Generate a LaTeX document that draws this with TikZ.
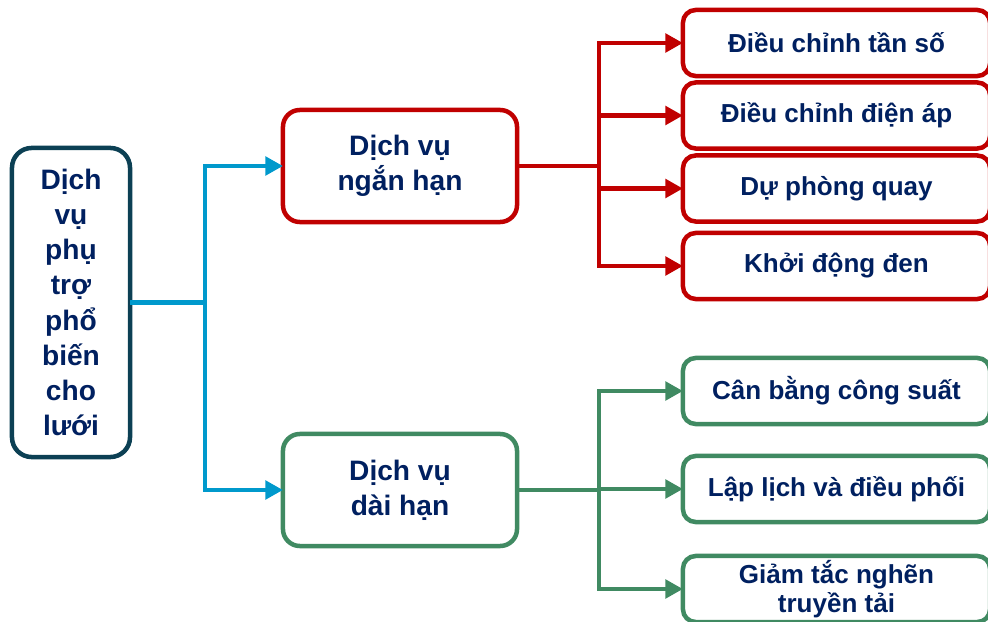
\documentclass[tikz,border=0pt]{standalone}
\usepackage{fontspec}
\setmainfont{Liberation Sans}
\usetikzlibrary{positioning, arrows.meta, shapes, calc}
\definecolor{navytext}{RGB}{0,32,96}
\definecolor{rootborder}{RGB}{12,64,84}
\definecolor{linkblue}{RGB}{0,153,204}
\definecolor{shortred}{RGB}{192,0,0}
\definecolor{longgreen}{RGB}{64,138,98}

\begin{document}
\begin{tikzpicture}[x=0.025cm, y=-0.025cm,
  box/.style={draw, line width=3.2pt, fill=white, text=navytext, align=center,
    font=\bfseries\fontsize{18.5}{24.5}\selectfont, inner sep=2pt, outer sep=0pt},
  rootbox/.style={box, draw=rootborder, rounded corners=14pt, minimum width=2.95cm, minimum height=7.725cm,
    font=\bfseries\fontsize{20}{25}\selectfont},
  midbox/.style={box, rounded corners=12pt, minimum width=5.85cm, minimum height=2.8cm,
    font=\bfseries\fontsize{20}{25}\selectfont},
  leafbox/.style={box, rounded corners=9pt, minimum width=7.675cm, minimum height=1.65cm},
  link/.style={line width=3.4pt, -{Triangle[length=12.5pt, width=13pt]}},
]
\useasboundingbox (0,0) rectangle (988,622);

% main node
\node[rootbox] (root) at (71,302.5) {Dịch\\vụ\\phụ\\trợ\\phổ\\biến\\cho\\lưới};

% two groups
\node[midbox, draw=shortred] (short) at (400,166) {Dịch vụ\\ngắn hạn};
\node[midbox, draw=longgreen] (long) at (400,490) {Dịch vụ\\dài hạn};

% short term services
\node[leafbox, draw=shortred] (freq) at (836.5,43) {Điều chỉnh tần số};
\node[leafbox, draw=shortred] (volt) at (836.5,115.5) {Điều chỉnh điện áp};
\node[leafbox, draw=shortred] (spin) at (836.5,188.5) {Dự phòng quay};
\node[leafbox, draw=shortred] (black) at (836.5,266) {Khởi động đen};

% long term services
\node[leafbox, draw=longgreen] (balance) at (836.5,391) {Cân bằng công suất};
\node[leafbox, draw=longgreen] (sched) at (836.5,489) {Lập lịch và điều phối};
\node[leafbox, draw=longgreen, font=\bfseries\fontsize{18.5}{20.5}\selectfont] (congest) at (836.5,589) {Giảm tắc nghẽn\\truyền tải};

% branch points
\coordinate (bsplit) at (205,302.5);
\coordinate (rsplit) at (599,166);
\coordinate (gsplit) at (599,490);

\draw[link, linkblue] (root.east) -- (bsplit) |- (short.west);
\draw[link, linkblue] (root.east) -- (bsplit) |- (long.west);

\foreach \leaf in {freq, volt, spin, black}
  \draw[link, shortred] (short.east) -- (rsplit) |- (\leaf.west);

\foreach \leaf in {balance, sched, congest}
  \draw[link, longgreen] (long.east) -- (gsplit) |- (\leaf.west);
\end{tikzpicture}
\end{document}
